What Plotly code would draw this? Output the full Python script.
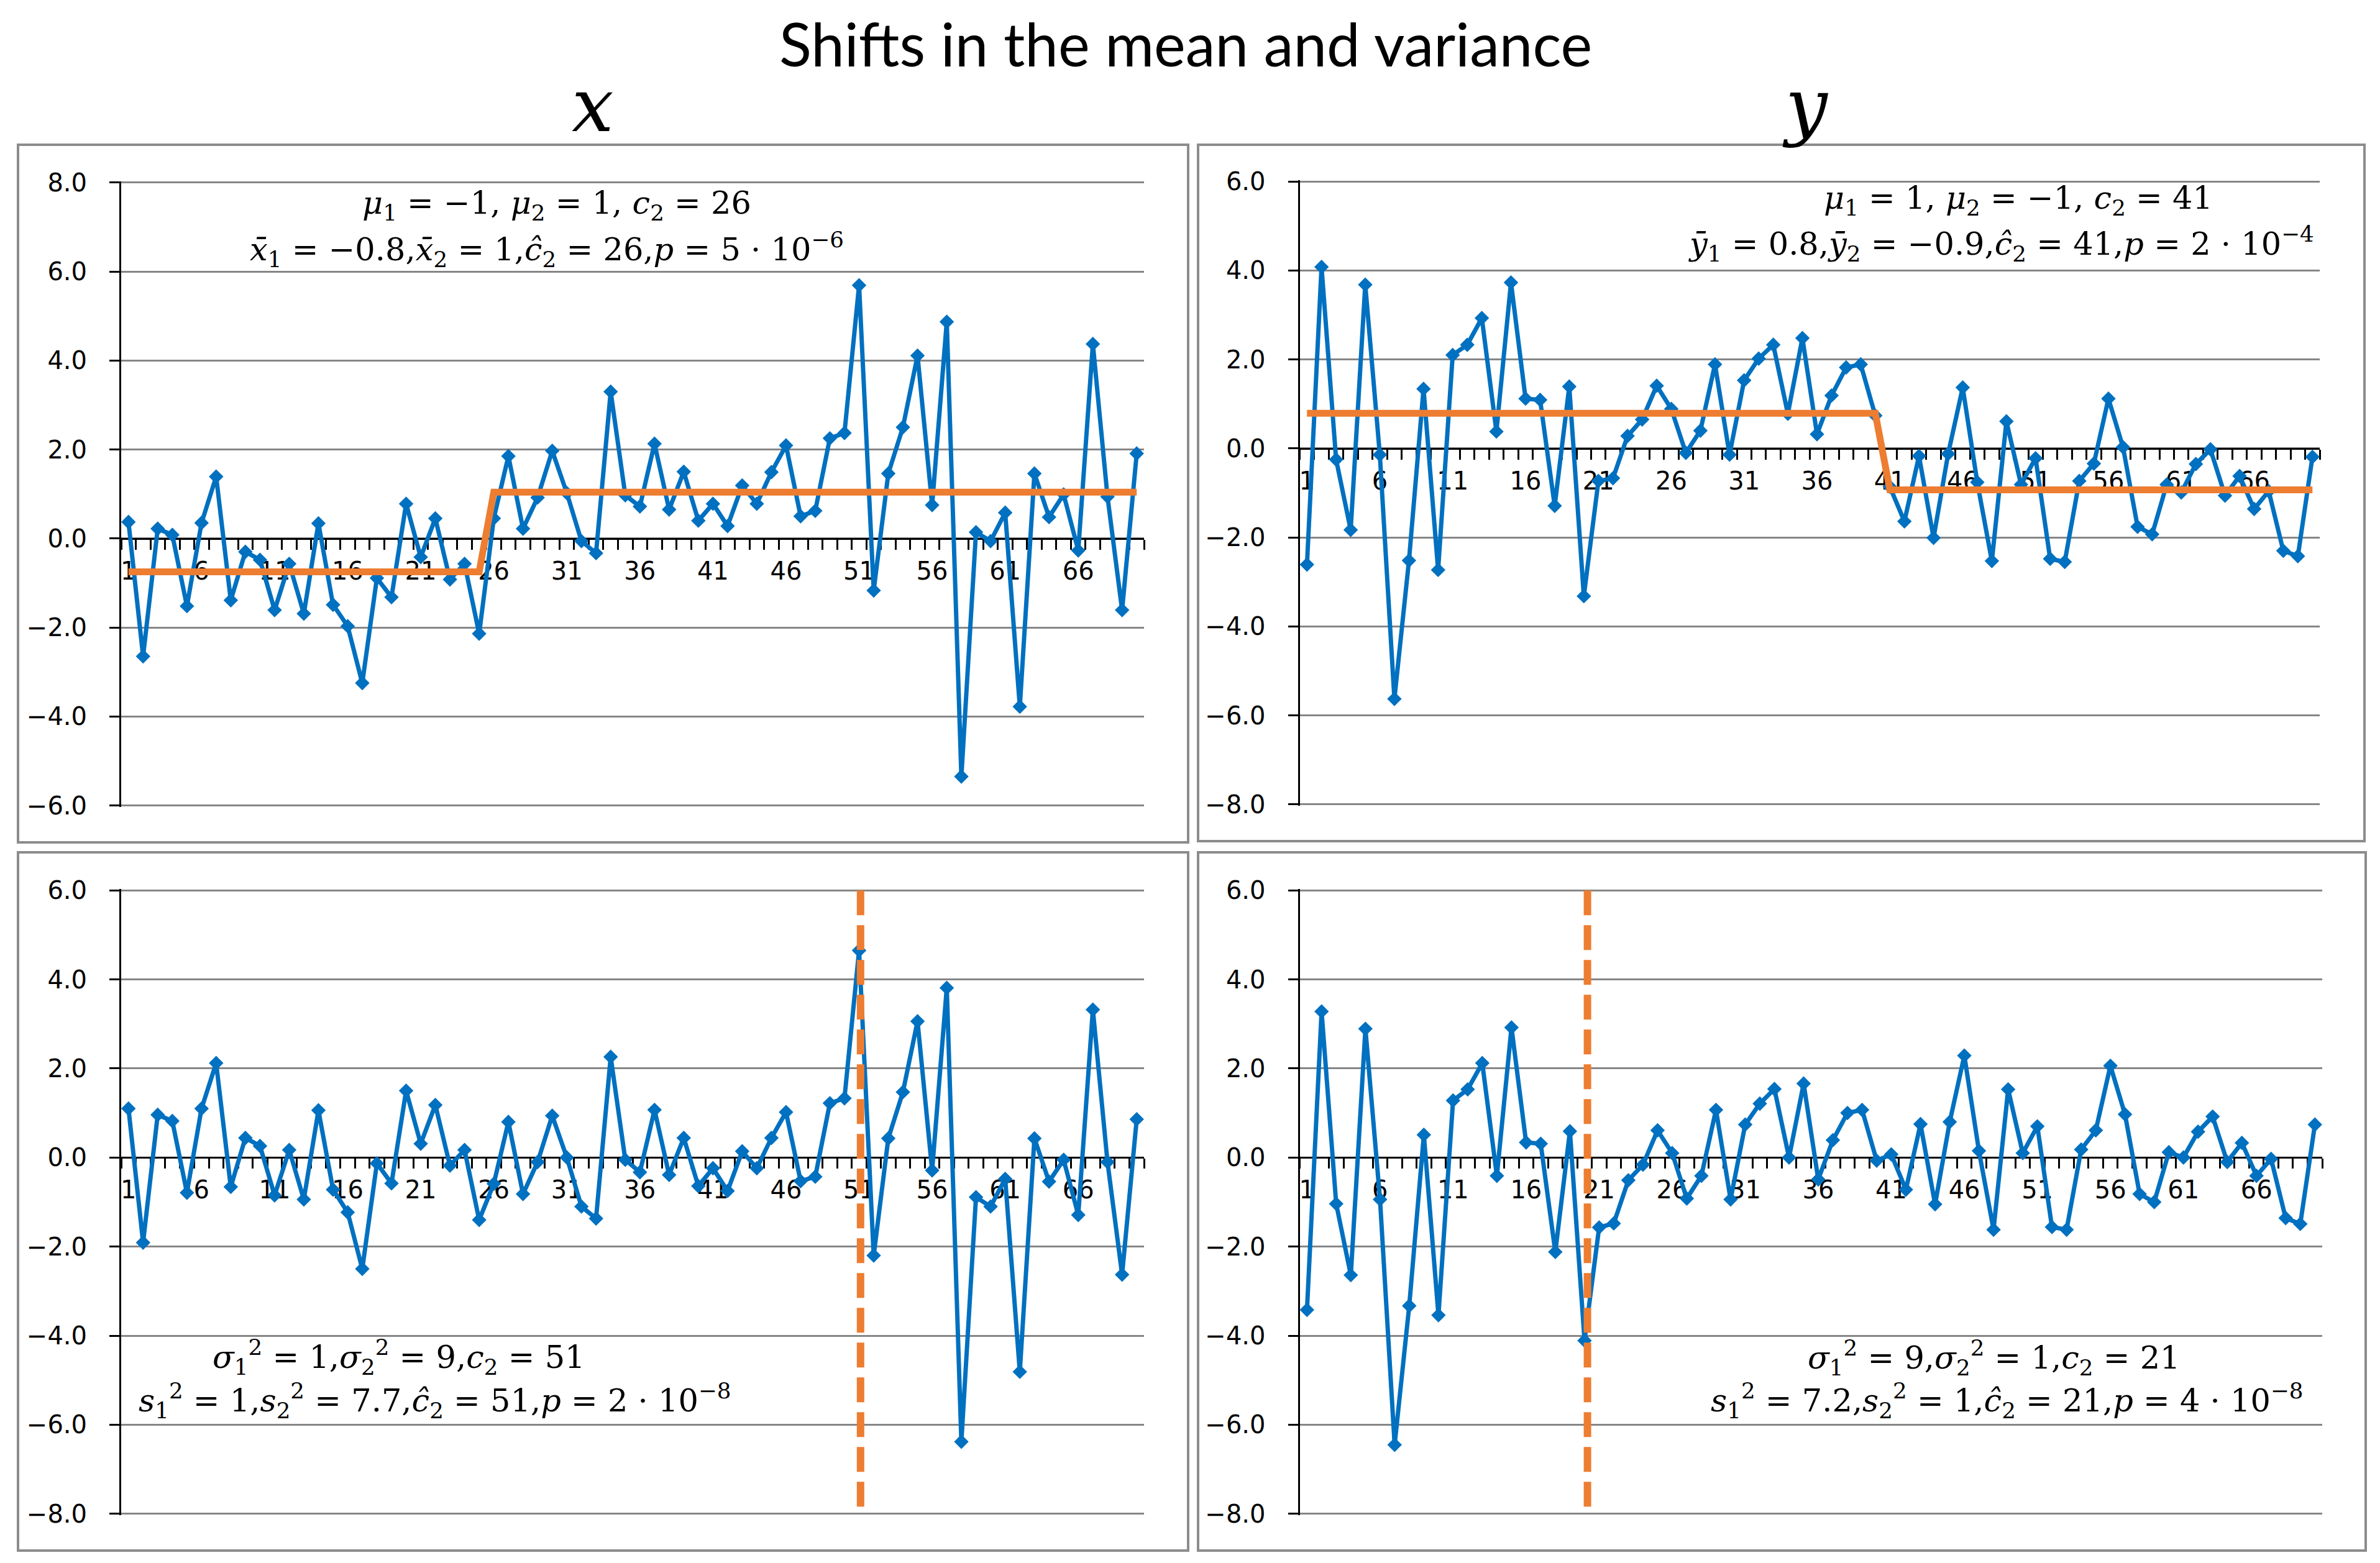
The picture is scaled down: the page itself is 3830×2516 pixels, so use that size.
import numpy as np
import plotly.graph_objects as go

W, H = 3830, 2516
BLUE = '#0070C0'
ORANGE = '#ED7D31'
GRID = '#868686'

# observation index 1..70
obs = list(range(1, 71))
tick_labels = [1, 6, 11, 16, 21, 26, 31, 36, 41, 46, 51, 56, 61, 66]

# top left: shift in the mean of x
x_mean = [0.37, -2.65, 0.22, 0.08, -1.52, 0.35, 1.39, -1.39, -0.30, -0.48,
          -1.61, -0.57, -1.69, 0.34, -1.49, -1.97, -3.25, -0.89, -1.32, 0.78,
          -0.42, 0.45, -0.92, -0.57, -2.14, 0.45, 1.85, 0.22, 0.92, 1.97,
          1.02, -0.06, -0.33, 3.30, 0.97, 0.72, 2.13, 0.65, 1.50, 0.40,
          0.78, 0.28, 1.19, 0.78, 1.49, 2.09, 0.50, 0.62, 2.25, 2.37,
          5.69, -1.17, 1.46, 2.50, 4.11, 0.75, 4.87, -5.35, 0.14, -0.06,
          0.58, -3.78, 1.46, 0.48, 0.99, -0.27, 4.37, 0.94, -1.61, 1.91]
x_mean_fit = [-0.75] * 25 + [1.04] * 45

# top right: shift in the mean of y
y_mean = [-2.61, 4.08, -0.25, -1.83, 3.68, -0.14, -5.63, -2.52, 1.34, -2.73,
          2.10, 2.33, 2.93, 0.38, 3.73, 1.12, 1.09, -1.29, 1.39, -3.32,
          -0.73, -0.67, 0.28, 0.65, 1.41, 0.89, -0.10, 0.40, 1.89, -0.14,
          1.53, 2.02, 2.33, 0.78, 2.48, 0.32, 1.19, 1.82, 1.89, 0.74,
          -0.86, -1.64, -0.17, -2.01, -0.12, 1.37, -0.76, -2.53, 0.61, -0.81,
          -0.22, -2.48, -2.55, -0.73, -0.34, 1.12, 0.03, -1.76, -1.93, -0.81,
          -0.99, -0.35, -0.02, -1.06, -0.62, -1.36, -0.96, -2.30, -2.42, -0.19]
y_mean_fit = [0.79] * 40 + [-0.93] * 30

# bottom left: shift in the variance of x
x_var = [1.10, -1.91, 0.96, 0.82, -0.79, 1.10, 2.12, -0.66, 0.44, 0.26,
         -0.85, 0.17, -0.94, 1.06, -0.72, -1.23, -2.50, -0.13, -0.58, 1.50,
         0.31, 1.18, -0.18, 0.17, -1.40, -0.59, 0.80, -0.82, -0.10, 0.94,
         0.00, -1.10, -1.37, 2.26, -0.05, -0.33, 1.07, -0.39, 0.44, -0.64,
         -0.24, -0.75, 0.14, -0.24, 0.44, 1.02, -0.53, -0.43, 1.22, 1.33,
         4.65, -2.20, 0.43, 1.47, 3.06, -0.29, 3.81, -6.38, -0.89, -1.10,
         -0.48, -4.81, 0.43, -0.54, -0.05, -1.29, 3.32, -0.10, -2.63, 0.86]
x_var_break = 51.1

# bottom right: shift in the variance of y
y_var = [-3.42, 3.28, -1.04, -2.64, 2.89, -0.94, -6.45, -3.33, 0.51, -3.54,
         1.28, 1.53, 2.12, -0.41, 2.92, 0.34, 0.31, -2.12, 0.59, -4.11,
         -1.57, -1.48, -0.51, -0.16, 0.61, 0.10, -0.92, -0.41, 1.07, -0.94,
         0.74, 1.21, 1.54, 0.00, 1.66, -0.49, 0.39, 1.00, 1.07, -0.07,
         0.07, -0.72, 0.75, -1.05, 0.80, 2.29, 0.15, -1.62, 1.53, 0.10,
         0.70, -1.56, -1.62, 0.18, 0.61, 2.06, 0.97, -0.82, -1.00, 0.12,
         0.00, 0.58, 0.92, -0.10, 0.33, -0.41, -0.03, -1.36, -1.49, 0.74]
y_var_break = 20.2

ranges = {'tl': (-6, 8), 'tr': (-8, 6), 'bl': (-8, 6), 'br': (-8, 6)}
EPS = 0.03  # keeps the edge gridlines from being dropped


def px(x):
    return x / W


def py(y):
    return 1 - y / H


fig = go.Figure()
layout = dict(width=W, height=H, margin=dict(l=0, r=0, t=0, b=0, autoexpand=False),
              paper_bgcolor='white', plot_bgcolor='white', showlegend=False)

# plot areas in pixels: (left, right, top, bottom)
panels = [
    ('tl', x_mean, x_mean_fit, None, (187, 1833, 283.6, 1290.7)),
    ('tr', y_mean, y_mean_fit, None, (2083.5, 3725, 282, 1289)),
    ('bl', x_var, None, x_var_break, (187, 1833, 1423, 2431)),
    ('br', y_var, None, y_var_break, (2083.5, 3729, 1423, 2431)),
]

tick_font = dict(family='DejaVu Sans', size=40, color='black')

for i, (key, vals, fit, brk, box) in enumerate(panels):
    n = '' if i == 0 else str(i + 1)
    ymin, ymax = ranges[key]
    lo, hi = ymin - EPS, ymax + EPS
    l, r, t, b = box
    ydom = [py(b), py(t)]
    zero_pos = ydom[0] + (0 - lo) / (hi - lo) * (ydom[1] - ydom[0])

    fig.add_trace(go.Scatter(
        x=obs, y=vals, mode='lines+markers',
        line=dict(color=BLUE, width=7),
        marker=dict(symbol='diamond', size=18, color=BLUE),
        xaxis='x' + n, yaxis='y' + n, cliponaxis=False))
    if fit is not None:
        fig.add_trace(go.Scatter(
            x=obs, y=fit, mode='lines',
            line=dict(color=ORANGE, width=11),
            xaxis='x' + n, yaxis='y' + n))
    if brk is not None:
        fig.add_trace(go.Scatter(
            x=[brk, brk], y=[ymax, ymin], mode='lines',
            line=dict(color=ORANGE, width=12, dash='40px,16px'),
            xaxis='x' + n, yaxis='y' + n, cliponaxis=False))

    layout['xaxis' + n] = dict(
        domain=[px(l), px(r)], range=[0.5, 70.5], anchor='free', position=zero_pos,
        tickmode='array', tickvals=tick_labels, ticktext=[str(v) for v in tick_labels],
        ticks='outside', ticklen=16, tickcolor='rgba(0,0,0,0)', ticklabelstandoff=0,
        minor=dict(tickmode='array', tickvals=list(np.arange(0.5, 71, 1)),
                   ticks='outside', ticklen=16, tickwidth=3, tickcolor='black'),
        showline=True, linecolor='black', linewidth=3, showgrid=False, zeroline=False,
        tickfont=tick_font, layer='below traces', automargin=False, fixedrange=True)
    layout['yaxis' + n] = dict(
        domain=ydom, range=[lo, hi], anchor='x' + n, dtick=2, tick0=0,
        tickformat='.1f', ticks='outside', ticklen=16, tickwidth=3, tickcolor='black',
        ticklabelstandoff=28,
        showline=True, linecolor='black', linewidth=3, showgrid=True,
        gridcolor=GRID, gridwidth=3, zeroline=False,
        tickfont=tick_font, layer='below traces', automargin=False, fixedrange=True)

fig.update_layout(**layout)

# panel borders
for (x0, x1, y0, y1) in [(21, 1904, 225, 1348), (1920, 3797, 225, 1346),
                         (21, 1904, 1364, 2488), (1920, 3799, 1364, 2488)]:
    fig.add_shape(type='rect', xref='paper', yref='paper',
                  x0=px(x0), x1=px(x1), y0=py(y1), y1=py(y0),
                  line=dict(color='#8c8c8c', width=4), layer='below')

math_font = dict(family='DejaVu Serif', size=51, color='black')
notes = [
    (888, 322, '<i>μ</i><sub>1</sub> = −1, <i>μ</i><sub>2</sub> = 1, <i>c</i><sub>2</sub> = 26'),
    (872, 394, '<i>x̄</i><sub>1</sub> = −0.8,<i>x̄</i><sub>2</sub> = 1,<i>ĉ</i><sub>2</sub> = 26,<i>p</i> = 5 · 10<sup>−6</sup>'),
    (3240, 314, '<i>μ</i><sub>1</sub> = 1, <i>μ</i><sub>2</sub> = −1, <i>c</i><sub>2</sub> = 41'),
    (3212, 384, '<i>ȳ</i><sub>1</sub> = 0.8,<i>ȳ</i><sub>2</sub> = −0.9,<i>ĉ</i><sub>2</sub> = 41,<i>p</i> = 2 · 10<sup>−4</sup>'),
    (634, 2176, '<i>σ</i><sub>1</sub><sup>2</sup> = 1,<i>σ</i><sub>2</sub><sup>2</sup> = 9,<i>c</i><sub>2</sub> = 51'),
    (692, 2246, '<i>s</i><sub>1</sub><sup>2</sup> = 1,<i>s</i><sub>2</sub><sup>2</sup> = 7.7,<i>ĉ</i><sub>2</sub> = 51,<i>p</i> = 2 · 10<sup>−8</sup>'),
    (3201, 2177, '<i>σ</i><sub>1</sub><sup>2</sup> = 9,<i>σ</i><sub>2</sub><sup>2</sup> = 1,<i>c</i><sub>2</sub> = 21'),
    (3222, 2246, '<i>s</i><sub>1</sub><sup>2</sup> = 7.2,<i>s</i><sub>2</sub><sup>2</sup> = 1,<i>ĉ</i><sub>2</sub> = 21,<i>p</i> = 4 · 10<sup>−8</sup>'),
]
for (ax, ay, txt) in notes:
    fig.add_annotation(x=px(ax), y=py(ay), xref='paper', yref='paper',
                       text=txt, showarrow=False, xanchor='center', yanchor='middle',
                       font=math_font)

fig.add_annotation(x=px(1900), y=py(2), xref='paper', yref='paper',
                   text='Shifts in the mean and variance', showarrow=False,
                   xanchor='center', yanchor='top',
                   font=dict(family='Lato', size=96, color='black'))
for (hx, hy, txt) in [(946, 162, 'x'), (2897, 162, 'y')]:
    fig.add_annotation(x=px(hx), y=py(hy), xref='paper', yref='paper',
                       text='<i>' + txt + '</i>', showarrow=False,
                       xanchor='center', yanchor='middle',
                       font=dict(family='DejaVu Serif', size=120, color='black'))

fig.write_html("out.html")
